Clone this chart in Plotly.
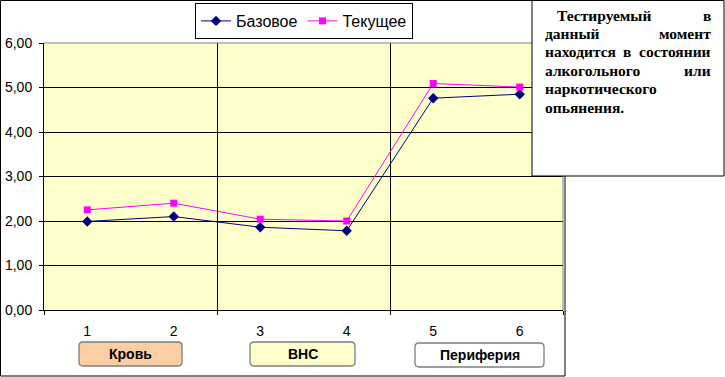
import plotly.graph_objects as go

categories = [1, 2, 3, 4, 5, 6]
base_values = [1.99, 2.10, 1.86, 1.78, 4.76, 4.85]
current_values = [2.25, 2.40, 2.04, 2.00, 5.09, 5.01]
series_names = ["Базовое", "Текущее"]
group_names = ["Кровь", "ВНС", "Периферия"]
note_lines = [
    ["Тестируемый", "в"],
    ["данный", "момент"],
    ["находится", "в", "состоянии"],
    ["алкогольного", "или"],
    ["наркотического"],
    ["опьянения."],
]

W, H = 725, 377
L, R, T, B = 44, 563, 43, 310
PW, PH = R - L, B - T


def px(x):
    return (x - L) / PW


def py(y):
    return (B - y) / PH


def rounded(x0, y0, x1, y1, r=4):
    rx = r / PW
    ry = r / PH
    a0, a1 = px(x0), px(x1)
    b0, b1 = py(y1), py(y0)  # bottom, top in paper
    return (f"M {a0+rx},{b0} L {a1-rx},{b0} Q {a1},{b0} {a1},{b0+ry} "
            f"L {a1},{b1-ry} Q {a1},{b1} {a1-rx},{b1} L {a0+rx},{b1} "
            f"Q {a0},{b1} {a0},{b1-ry} L {a0},{b0+ry} Q {a0},{b0} {a0+rx},{b0} Z")


fig = go.Figure()
fig.add_trace(go.Scatter(
    x=categories, y=base_values, name=series_names[0], mode="lines+markers",
    line=dict(color="#000080", width=1),
    marker=dict(symbol="diamond", size=8, color="#000080"),
))
fig.add_trace(go.Scatter(
    x=categories, y=current_values, name=series_names[1], mode="lines+markers",
    line=dict(color="#FF00FF", width=1),
    marker=dict(symbol="square", size=7, color="#FF00FF"),
))

shapes = []
# outer chart border
shapes.append(dict(type="rect", xref="paper", yref="paper",
                   x0=px(0.5), x1=px(565), y0=py(376), y1=py(0.5),
                   line=dict(color="black", width=1), layer="above"))
# plot top / right border (grey)
shapes.append(dict(type="line", xref="paper", yref="paper",
                   x0=0, x1=1, y0=1, y1=1, line=dict(color="#808080", width=1), layer="above"))
shapes.append(dict(type="line", xref="paper", yref="paper",
                   x0=1, x1=1, y0=0, y1=1, line=dict(color="#808080", width=1), layer="above"))

# group boxes
box_px = [(79, 342, 182, 366), (250, 342, 355, 366), (415, 343, 544, 367)]
box_fill = ["#FBCFA3", "#FFFFCC", "#FFFFFF"]
annotations = []
for (x0, y0, x1, y1), fill, name in zip(box_px, box_fill, group_names):
    shapes.append(dict(type="path", xref="paper", yref="paper", path=rounded(x0, y0, x1, y1),
                       fillcolor=fill, line=dict(color="#7F7F7F", width=1.3), layer="above"))
    annotations.append(dict(xref="paper", yref="paper", x=px((x0 + x1) / 2), y=py((y0 + y1) / 2),
                            text=f"<b>{name}</b>", showarrow=False, xanchor="center", yanchor="middle",
                            font=dict(family="Liberation Sans, Arial", size=14, color="black")))

# note text box
shapes.append(dict(type="rect", xref="paper", yref="paper",
                   x0=px(532), x1=px(724), y0=py(176), y1=py(0.5),
                   fillcolor="white", line=dict(color="black", width=1), layer="above"))

note_font = dict(family="Liberation Serif, Times New Roman", size=15.5, color="black")
line_y = [16, 34, 52, 70, 88, 107]
left_x = [555, 543, 543, 543, 543, 543]
right_x = 713
for words, yy, lx in zip(note_lines, line_y, left_x):
    annotations.append(dict(xref="paper", yref="paper", x=px(lx), y=py(yy), text=f"<b>{words[0]}</b>",
                            showarrow=False, xanchor="left", yanchor="middle", font=note_font))
    if len(words) == 2:
        annotations.append(dict(xref="paper", yref="paper", x=px(right_x), y=py(yy), text=f"<b>{words[1]}</b>",
                                showarrow=False, xanchor="right", yanchor="middle", font=note_font))
    elif len(words) == 3:
        annotations.append(dict(xref="paper", yref="paper", x=px(627), y=py(yy), text=f"<b>{words[1]}</b>",
                                showarrow=False, xanchor="center", yanchor="middle", font=note_font))
        annotations.append(dict(xref="paper", yref="paper", x=px(right_x), y=py(yy), text=f"<b>{words[2]}</b>",
                                showarrow=False, xanchor="right", yanchor="middle", font=note_font))

fig.update_layout(
    width=W, height=H,
    margin=dict(l=L, r=W - R, t=T, b=H - B, pad=0, autoexpand=False),
    paper_bgcolor="white", plot_bgcolor="#FFFFCC",
    separators=", ",
    font=dict(family="Liberation Sans, Arial", size=13, color="black"),
    showlegend=True,
    legend=dict(orientation="h", x=px(195), y=py(3), xanchor="left", yanchor="top",
                bordercolor="black", borderwidth=1, bgcolor="white",
                font=dict(family="Liberation Sans, Arial", size=16, color="black"),
                itemwidth=30, tracegroupgap=0),
    shapes=shapes, annotations=annotations,
    xaxis=dict(range=[0.5, 6.5], tickvals=categories, ticktext=[str(c) for c in categories],
               showgrid=False, zeroline=False, ticks="outside", ticklen=8, tickcolor="rgba(0,0,0,0)",
               showline=True, linecolor="black", linewidth=1,
               tickfont=dict(size=14),
               minor=dict(tick0=0.5, dtick=2, ticks="outside", ticklen=4, tickcolor="black",
                          showgrid=True, gridcolor="black", gridwidth=1)),
    yaxis=dict(range=[0, 6], dtick=1, tickformat=".2f", showgrid=True, gridcolor="black", gridwidth=1,
               zeroline=False, showline=True, linecolor="black", linewidth=1,
               ticks="outside", ticklen=4, tickcolor="black", tickfont=dict(size=14),
               ticklabelstandoff=4),
)

fig.write_html("out.html", config={"displayModeBar": False},
               post_script="document.body.style.margin='0';document.body.style.overflow='hidden';")
